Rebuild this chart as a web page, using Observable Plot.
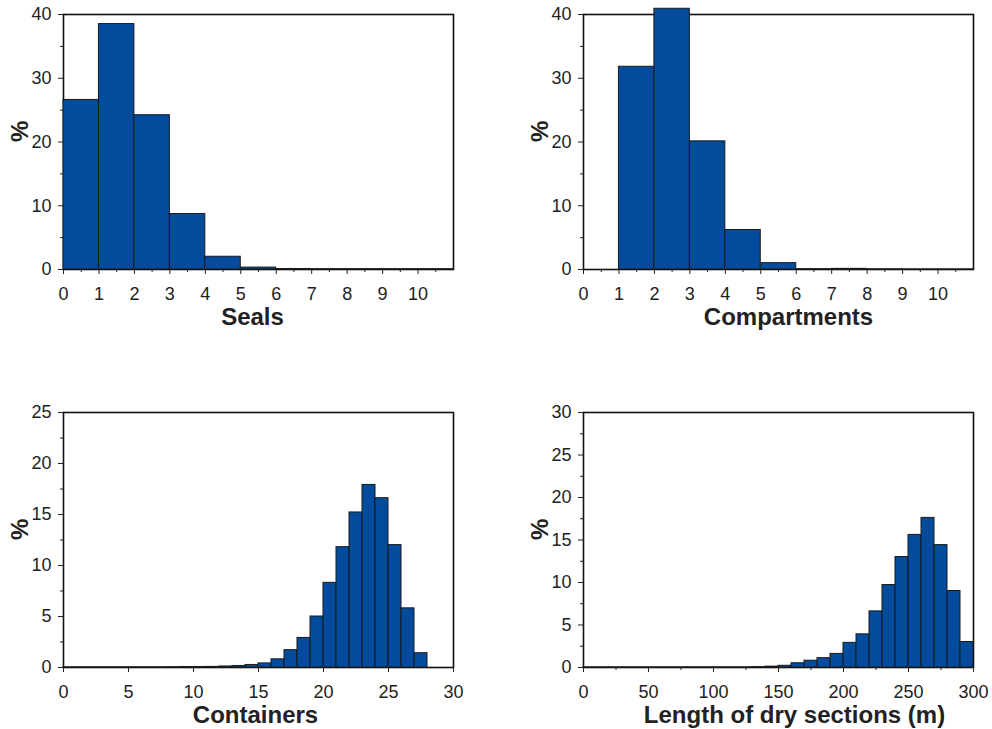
<!DOCTYPE html>
<html><head><meta charset="utf-8">
<script src="https://cdn.jsdelivr.net/npm/d3@7"></script>
<script src="https://cdn.jsdelivr.net/npm/@observablehq/plot@0.6"></script>
<style>
body{margin:0;background:#fff;}
#wrap{position:relative;width:992px;height:729px;overflow:hidden;background:#fff;}
#wrap > .panel{position:absolute;width:480px;}
#wrap > .panel svg{max-width:none;}
</style></head><body><div id="wrap"></div>
<script>
// ---- data ----
const sealsStart = [0,1,2,3,4,5,6,7,8,9,10];
const sealsPct   = [26.6,38.5,24.2,8.7,2.0,0.3,0.08,0.05,0.05,0.05,0.05];

const compStart = [0,1,2,3,4,5,6,7,8,9,10];
const compPct   = [0,31.8,40.9,20.1,6.2,1.0,0.05,0.1,0.03,0.02,0.02];

const contStart = d3.range(0,30);
const contPct   = [0.02,0.02,0.02,0.02,0.02,0.02,0.02,0.02,0.03,0.05,0.05,0.06,0.1,0.15,0.25,0.4,0.8,1.7,2.9,5.0,8.3,11.8,15.2,17.9,16.6,12.0,5.8,1.4,0,0];

const lenStart = d3.range(0,300,10);
const lenPct   = [0.02,0.02,0.02,0.02,0.02,0.02,0.02,0.02,0.02,0.02,0.02,0.02,0.02,0.05,0.1,0.2,0.5,0.8,1.1,1.6,2.9,3.9,6.6,9.7,13.0,15.6,17.6,14.4,9.0,3.0];

const panels = [
  {label:"Seals", starts:sealsStart, pct:sealsPct, bw:1, xDomain:[0,11], yDomain:[0,40],
   xMajor:d3.range(0,11), xMinor:d3.range(0.5,11,1), yMajor:[0,10,20,30,40], yMinor:[5,15,25,35],
   left:0, top:0, height:345, mb:76, ldx:-6},
  {label:"Compartments", starts:compStart, pct:compPct, bw:1, xDomain:[0,11], yDomain:[0,40],
   xMajor:d3.range(0,11), xMinor:d3.range(0.5,11,1), yMajor:[0,10,20,30,40], yMinor:[5,15,25,35],
   left:520, top:0, height:345, mb:76, ldx:10},
  {label:"Containers", starts:contStart, pct:contPct, bw:1, xDomain:[0,30], yDomain:[0,25],
   xMajor:[0,5,10,15,20,25,30], xMinor:[], yMajor:[0,5,10,15,20,25], yMinor:[2.5,7.5,12.5,17.5,22.5],
   left:0, top:398, height:331, mb:62, ldx:-3},
  {label:"Length of dry sections (m)", starts:lenStart, pct:lenPct, bw:10, xDomain:[0,300], yDomain:[0,30],
   xMajor:[0,50,100,150,200,250,300], xMinor:[25,75,125,175,225,275], yMajor:[0,5,10,15,20,25,30], yMinor:[2.5,7.5,12.5,17.5,22.5,27.5],
   left:520, top:398, height:331, mb:62, ldx:16}
];

const wrap = document.getElementById("wrap");
const FONT = '"Liberation Sans", Arial, Helvetica, sans-serif';
const blank = () => "";

for (const p of panels) {
  const table = p.starts.map((s,i) => ({x1:s, x2:s+p.bw, y:p.pct[i]}));
  const marks = [
    Plot.frame({stroke: "#111", strokeWidth: 1.6}),
    Plot.rectY(table, {x1:"x1", x2:"x2", y:"y", fill:"#034c9d", stroke:"#1a1a1a", strokeWidth:1}),
    Plot.axisX(p.xMajor, {anchor:"bottom", tickSize:5, tickPadding:13, fontSize:18, label:null}),
    Plot.axisY(p.yMajor, {anchor:"left", tickSize:5, tickPadding:7, fontSize:18, label:null}),
    Plot.axisY(p.yMinor, {anchor:"left", tickSize:3, tickFormat:blank, label:null}),
    Plot.text([p.label], {frameAnchor:"bottom", lineAnchor:"middle", dy:48, dx:p.ldx, fontSize:24, fontWeight:"bold", fill:"#222"}),
    Plot.text(["%"], {frameAnchor:"left", lineAnchor:"middle", dx:-43, rotate:-90, fontSize:24, fontWeight:"bold", fill:"#222"})
  ];
  if (p.xMinor.length) marks.push(Plot.axisX(p.xMinor, {anchor:"bottom", tickSize:3, tickFormat:blank, label:null}));
  const chart = Plot.plot({
    width: 480,
    height: p.height,
    marginTop: 14,
    marginLeft: 63,
    marginRight: 27,
    marginBottom: p.mb,
    style: {fontFamily: FONT, fontSize: "18px", color: "#222", background: "white", overflow: "visible"},
    x: {domain: p.xDomain},
    y: {domain: p.yDomain},
    marks
  });
  const div = document.createElement("div");
  div.className = "panel";
  div.style.left = p.left + "px";
  div.style.top = p.top + "px";
  div.appendChild(chart);
  wrap.appendChild(div);
}
</script>
</body></html>
